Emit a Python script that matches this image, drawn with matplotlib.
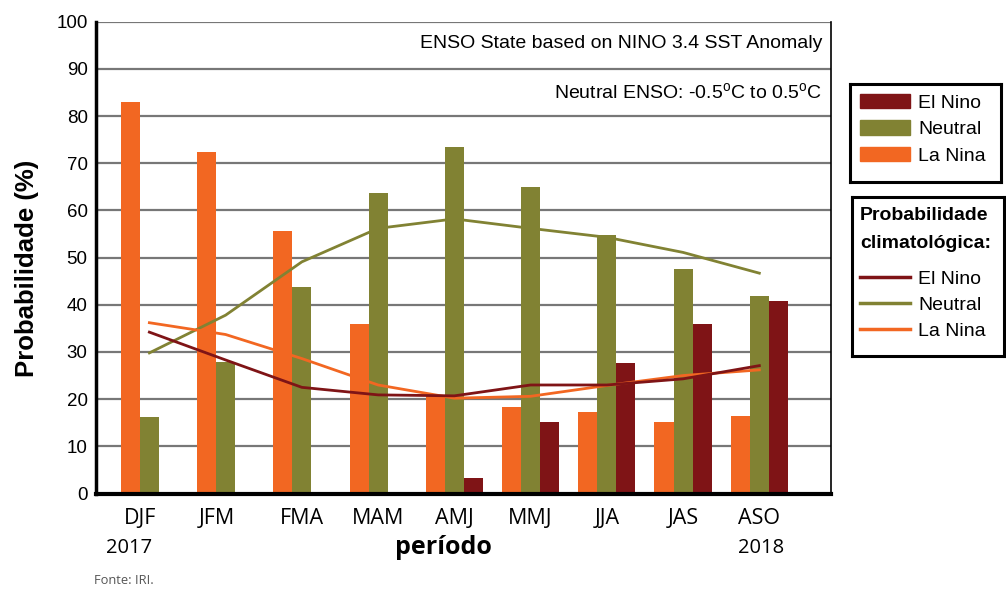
import numpy as np
import matplotlib.pyplot as plt
import matplotlib.transforms as mtransforms
from matplotlib.patches import Patch
from matplotlib.lines import Line2D

# data
periods = ['DJF', 'JFM', 'FMA', 'MAM', 'AMJ', 'MMJ', 'JJA', 'JAS', 'ASO']
la_nina = [83.0, 72.4, 55.6, 35.9, 20.9, 18.4, 17.3, 15.2, 16.5]
neutral = [16.2, 27.9, 43.8, 63.7, 73.4, 65.0, 54.8, 47.6, 41.8]
el_nino = [0.0, 0.0, 0.0, 0.0, 3.3, 15.2, 27.7, 36.0, 40.7]

clim_el_nino = [34.2, 28.3, 22.5, 20.9, 20.7, 23.0, 23.0, 24.3, 27.1]
clim_neutral = [29.8, 37.8, 49.1, 56.2, 58.2, 56.2, 54.3, 51.1, 46.7]
clim_la_nina = [36.2, 33.7, 28.6, 23.0, 20.2, 20.6, 22.9, 25.0, 26.2]

c_nino = '#7f1416'
c_neut = '#818233'
c_nina = '#f26722'

W, H = 1006, 589
fig = plt.figure(figsize=(W / 100, H / 100), dpi=100)
plt.rcParams['font.family'] = ['Liberation Sans', 'DejaVu Sans']


def px_axes(left, top, right, bottom):
    return fig.add_axes([left / W, 1 - bottom / H, (right - left) / W, (bottom - top) / H])


ax = px_axes(96, 21.7, 831, 493.5)
x = np.arange(len(periods))
bw = 0.25
ax.bar(x - bw, la_nina, bw, color=c_nina, zorder=2)
ax.bar(x, neutral, bw, color=c_neut, zorder=2)
ax.bar(x + bw, el_nino, bw, color=c_nino, zorder=2)

ax.plot(x, clim_neutral, color=c_neut, lw=2, zorder=3)
ax.plot(x, clim_la_nina, color=c_nina, lw=2, zorder=3)
ax.plot(x, clim_el_nino, color=c_nino, lw=2, zorder=3)

ax.set_xlim(-0.70, 8.94)
ax.set_ylim(0, 100)
ax.set_yticks(range(0, 101, 10))
ax.yaxis.grid(True, color='#777777', lw=1.6, zorder=0)
ax.set_axisbelow(True)
ax.tick_params(axis='y', length=0, labelsize=13.5, pad=6)
ax.tick_params(axis='x', length=0, pad=10.5)
ax.set_xticks(x)
ax.set_xticklabels(periods, family='Open Sans', fontsize=15.5)
# first two labels sit a little left of their groups in the original
for lab in ax.get_xticklabels()[:2]:
    lab.set_transform(lab.get_transform() + mtransforms.ScaledTranslation(-0.09, 0, fig.dpi_scale_trans))
ax.spines['top'].set_visible(False)
ax.spines['left'].set_linewidth(2.5)
ax.spines['bottom'].set_linewidth(3)
ax.spines['right'].set_linewidth(1.2)

ax.text(0.988, 0.953, 'ENSO State based on NINO 3.4 SST Anomaly', transform=ax.transAxes,
        ha='right', va='center', fontsize=14)
ax.text(0.988, 0.85, r'Neutral ENSO: -0.5$^\mathregular{o}$C to 0.5$^\mathregular{o}$C',
        transform=ax.transAxes, ha='right', va='center', fontsize=14)

fig.text(27 / W, 1 - 268 / H, 'Probabilidade (%)', rotation=90, ha='center', va='center',
         fontsize=18.5, fontweight='bold')
fig.text(443 / W, 1 - 548 / H, 'período', ha='center', va='center', family='Open Sans',
         fontsize=18, fontweight='bold')
fig.text(129 / W, 1 - 548 / H, '2017', ha='center', va='center', family='Open Sans', fontsize=14.5)
fig.text(761 / W, 1 - 548 / H, '2018', ha='center', va='center', family='Open Sans', fontsize=14.5)
fig.text(94 / W, 1 - 580 / H, 'Fonte: IRI.', ha='left', va='center', family='Open Sans',
         fontsize=9.3, color='#555555')

# legend boxes
lg1 = px_axes(850, 84, 1001, 182)
lg2 = px_axes(852, 197, 1004, 356)
for a in (lg1, lg2):
    a.set_xticks([])
    a.set_yticks([])
    for s in a.spines.values():
        s.set_linewidth(2.2)
        s.set_color('black')

bar_handles = [Patch(color=c_nino), Patch(color=c_neut), Patch(color=c_nina)]
line_handles = [Line2D([], [], color=c_nino, lw=2.5), Line2D([], [], color=c_neut, lw=2.5),
                Line2D([], [], color=c_nina, lw=2.5)]
names = ['El Nino', 'Neutral', 'La Nina']

lg1.legend(bar_handles, names, loc='upper left', frameon=False, fontsize=14,
           handlelength=2.6, handleheight=0.75, handletextpad=0.4, labelspacing=0.45,
           borderaxespad=0, borderpad=0.5, bbox_to_anchor=(0.0, 1.0))
lg2.text(8 / 152, 1 - 19 / 159, 'Probabilidade', transform=lg2.transAxes,
         ha='left', va='center', fontsize=14, fontweight='bold')
lg2.text(8 / 152, 1 - 46 / 159, 'climatológica:', transform=lg2.transAxes,
         ha='left', va='center', fontsize=14, fontweight='bold')
lg2.legend(line_handles, names, loc='upper left', frameon=False, fontsize=14,
           handlelength=2.6, handletextpad=0.4, labelspacing=0.45,
           borderaxespad=0, borderpad=0.4, bbox_to_anchor=(0.0, 0.59))

fig.savefig('out.png', dpi=100)
